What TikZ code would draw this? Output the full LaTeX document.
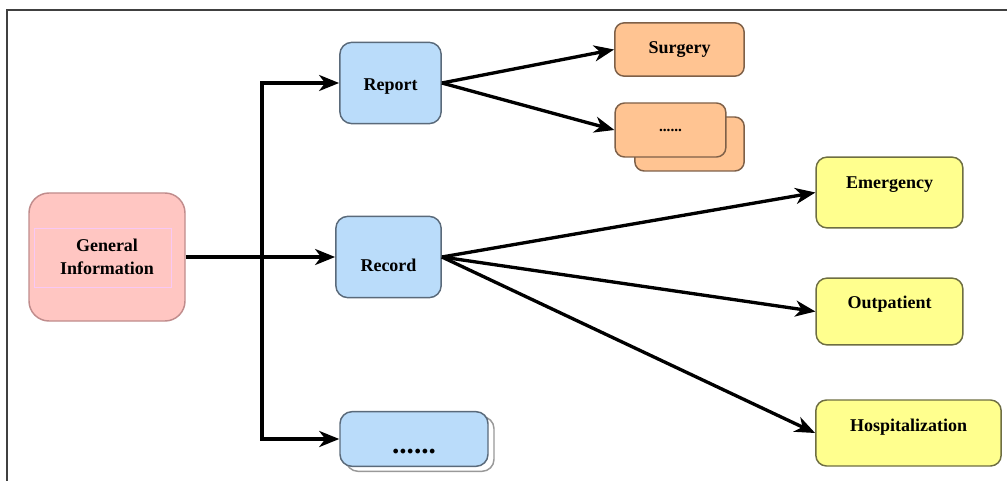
\documentclass[tikz,border=0pt]{standalone}
\usepackage{fontspec}
\setmainfont{Liberation Serif}
\usetikzlibrary{arrows.meta}

\definecolor{pinkfill}{HTML}{FFC6C2}
\definecolor{pinkline}{HTML}{C08C8C}
\definecolor{pinkinner}{HTML}{F8C8F4}
\definecolor{bluefill}{HTML}{BADCFA}
\definecolor{blueline}{HTML}{5A6A7A}
\definecolor{orangefill}{HTML}{FFC492}
\definecolor{orangeline}{HTML}{7E6048}
\definecolor{yellowfill}{HTML}{FFFF8E}
\definecolor{yellowline}{HTML}{6E6E42}
\definecolor{framegray}{HTML}{404040}

\begin{document}
\begin{tikzpicture}[x=0.75pt,y=-0.75pt,
	box/.style={draw,rounded corners=9pt,line width=1.1pt,align=center,inner sep=2pt,
		font=\fontsize{13.5}{17}\selectfont\bfseries},
	gen_node/.style={box,fill=pinkfill,draw=pinkline,rounded corners=15pt},
	blue_node/.style={box,fill=bluefill,draw=blueline},
	blue_back/.style={box,fill=white,draw=gray!80},
	orange_node/.style={box,fill=orangefill,draw=orangeline,rounded corners=7pt},
	yellow_node/.style={box,fill=yellowfill,draw=yellowline,rounded corners=8pt},
	link/.style={line width=2.5pt,-{Stealth[length=15pt,width=12pt,inset=4.5pt]}}]

		\useasboundingbox (0,0) rectangle (1007,481);
		\clip (0,0) rectangle (1007,481);
		\draw[framegray,line width=1.3pt] (7,10) rectangle (1015,490);

		% left and middle column
		\node[gen_node,minimum width=117pt,minimum height=96pt] (geninfo) at (107,257) {General\\Information};
		\draw[pinkinner,line width=0.6pt] ([shift={(-73,-29)}]geninfo.center) rectangle ([shift={(64,30)}]geninfo.center);
		\node[blue_node,minimum width=76pt,minimum height=61pt,text height=12pt,text depth=0pt] (report) at (390.5,83) {Report};
		\node[blue_node,minimum width=79pt,minimum height=61pt,text height=23pt,text depth=1pt] (record) at (388.5,257) {Record};
		\node[blue_back,minimum width=111pt,minimum height=41pt] (morebk) at (420,444) {};
		\node[blue_node,minimum width=111pt,minimum height=41pt,text height=22pt,text depth=0pt,
			font=\fontsize{22}{22}\selectfont\bfseries] (more) at (414,439) {......};

		% right column
		\node[orange_node,minimum width=97pt,minimum height=40pt] (surgery) at (679.5,49.5) {Surgery};
		\node[orange_node,minimum width=82pt,minimum height=40.5pt] (orangebk) at (689.5,144) {};
		\node[orange_node,minimum width=83pt,minimum height=40.5pt,
			font=\fontsize{11.5}{12}\selectfont\bfseries] (orangemore) at (670.5,130) {......};
		\node[yellow_node,minimum width=110pt,minimum height=53pt,text height=8pt,text depth=13.5pt] (emergency) at (889.5,192.5) {Emergency};
		\node[yellow_node,minimum width=110pt,minimum height=50pt,text height=8pt,text depth=12pt] (outpatient) at (889.5,311.5) {Outpatient};
		\node[yellow_node,minimum width=139pt,minimum height=49.5pt,text height=8pt,text depth=10.5pt] (hosp) at (908.5,433) {Hospitalization};

		\coordinate (split) at (262,257);

		\draw[link] (geninfo.east) -- (record.west);
		\draw[link] (split) |- (report.west);
		\draw[link] (split) |- (more.west);
		\draw[link] (report.east) -- (surgery.west);
		\draw[link] (report.east) -- (orangemore.west);
		\draw[link] (record.east) -- (emergency.west);
		\draw[link] (record.east) -- (outpatient.west);
		\draw[link] (record.east) -- (hosp.west);
		\end{tikzpicture}
\end{document}
